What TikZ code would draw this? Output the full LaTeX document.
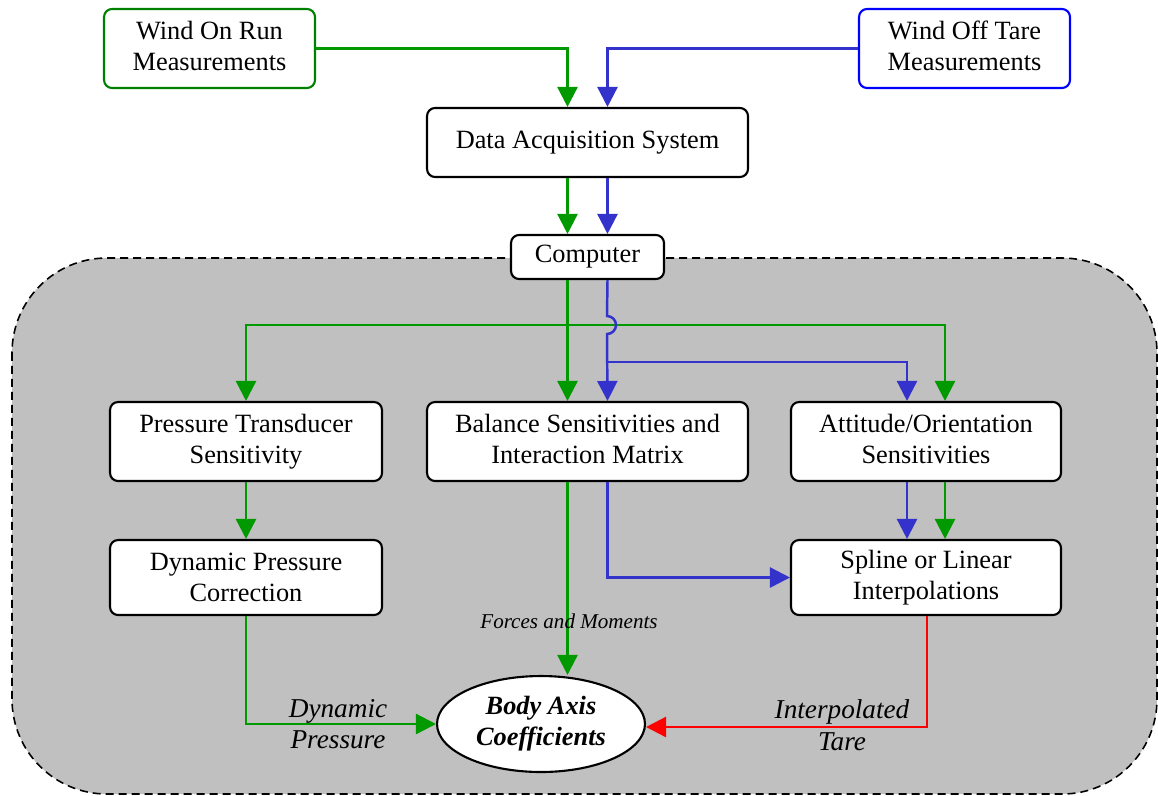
\documentclass[tikz,border=0pt]{standalone}
\usepackage{fontspec}
\setmainfont{Liberation Serif}
\usepackage{tikz}
\usetikzlibrary{shapes, arrows.meta, positioning, calc}

\definecolor{flowgreen}{RGB}{0,153,0}
\definecolor{flowblue}{RGB}{51,51,204}
\definecolor{flowred}{RGB}{255,0,0}
\definecolor{boxgreen}{RGB}{0,128,0}
\definecolor{boxblue}{RGB}{0,0,255}
\definecolor{regiongray}{RGB}{192,192,192}

\begin{document}
\begin{tikzpicture}[
        x=0.02cm, y=-0.02cm,
        blk/.style={draw, fill=white, line width=1.2pt, rounded corners=0.16cm, align=center,
            minimum height=1.58cm, font=\fontsize{15}{17.6}\selectfont, inner sep=2pt},
        region/.style={draw, dashed, dash pattern=on 0.16cm off 0.1cm, line width=0.9pt,
            fill=regiongray, rounded corners=1.9cm},
        gar/.style={draw=flowgreen, line width=1.4pt, -{Triangle[length=0.4cm, width=0.4cm]}},
        bar/.style={draw=flowblue, line width=1.4pt, -{Triangle[length=0.4cm, width=0.4cm]}},
        rar/.style={draw=flowred, line width=1.4pt, -{Triangle[length=0.4cm, width=0.4cm]}},
        lbl/.style={align=center, font=\fontsize{15.5}{18}\selectfont\itshape, inner sep=0pt}
    ]
        \useasboundingbox (0,0) rectangle (1158,795);

        % Computer region
        \draw[region] (12,258) rectangle (1157,794);

        % Inputs
        \node[blk, draw=boxgreen, minimum width=4.22cm] (won) at (209.5,48.5) {Wind On Run\\Measurements\vphantom{g}};
        \node[blk, draw=boxblue, minimum width=4.22cm] (woff) at (964.5,48.5) {Wind Off Tare\\Measurements\vphantom{g}};
        \node[blk, minimum width=6.42cm, minimum height=1.38cm] (das) at (587.5,142.5) {Data Acquisition System};
        \node[blk, minimum width=3.06cm, minimum height=0.88cm] (comp) at (587.5,257) {Computer};

        % Sensitivities
        \node[blk, minimum width=5.44cm] (pts) at (246,441.5) {Pressure Transducer\\Sensitivity};
        \node[blk, minimum width=6.42cm] (bal) at (587.5,441.5) {Balance Sensitivities and\\Interaction Matrix\vphantom{y}};
        \node[blk, minimum width=5.4cm] (att) at (926,441.5) {Attitude/Orientation\\Sensitivities\vphantom{y}};

        % Corrections
        \node[blk, minimum width=5.44cm, minimum height=1.5cm] (dpc) at (246,577.5) {Dynamic Pressure\\Correction};
        \node[blk, minimum width=5.4cm, minimum height=1.5cm] (spl) at (926,577.5) {Spline or Linear\\Interpolations};

        % Result
        \node[draw, ellipse, fill=white, line width=1.2pt, minimum width=4.16cm, minimum height=1.92cm,
            align=center, inner sep=0pt, font=\fontsize{15}{17.6}\selectfont\bfseries\itshape]
            (bac) at (541,724) {Body Axis\\Coefficients};

        % Wind on / wind off paths
        \draw[gar] (won.east) -| ([xshift=-0.4cm]das.north);
        \draw[bar] (woff.west) -| ([xshift=0.4cm]das.north);
        \draw[gar] ([xshift=-0.4cm]das.south) -- ([xshift=-0.4cm]comp.north);
        \draw[bar] ([xshift=0.4cm]das.south) -- ([xshift=0.4cm]comp.north);

        % Computer outputs
        \coordinate (gsplit) at (567,325);
        \coordinate (bsplit) at (607,362);
        \draw[gar] ([xshift=-0.4cm]comp.south) -- ([xshift=-0.4cm]bal.north);
        \draw[gar] (gsplit) -| (pts.north);
        \draw[gar] (gsplit) -| ([xshift=0.38cm]att.north);
        \draw[bar] ([xshift=0.4cm]comp.south) -- (607,316)
            arc[start angle=90, end angle=-90, radius=0.18cm] -- ([xshift=0.4cm]bal.north);
        \draw[bar] (bsplit) -| ([xshift=-0.38cm]att.north);

        % Sensitivities to corrections
        \draw[gar] (pts) -- (dpc);
        \draw[bar] ([xshift=-0.38cm]att.south) -- ([xshift=-0.38cm]spl.north);
        \draw[gar] ([xshift=0.38cm]att.south) -- ([xshift=0.38cm]spl.north);
        \draw[bar] ([xshift=0.4cm]bal.south) |- (spl.west);

        % Into the coefficients
        \coordinate (fm) at ([xshift=-0.4cm]bal.south);
        \draw[gar] (fm) -- (fm |- bac.north);
        \draw[gar] (dpc.south) |- (bac.west);
        \draw[rar] ([xshift=0.02cm]spl.south) |- ([yshift=-0.06cm]bac.east);

        \node[lbl, font=\fontsize{12}{14}\selectfont\itshape] (fmlbl) at (569,621) {Forces and Moments};
        \node[lbl] (dplbl) at (338,724) {Dynamic\\Pressure};
        \node[lbl] (itlbl) at (842,725) {Interpolated\\Tare};
    \end{tikzpicture}
\end{document}
